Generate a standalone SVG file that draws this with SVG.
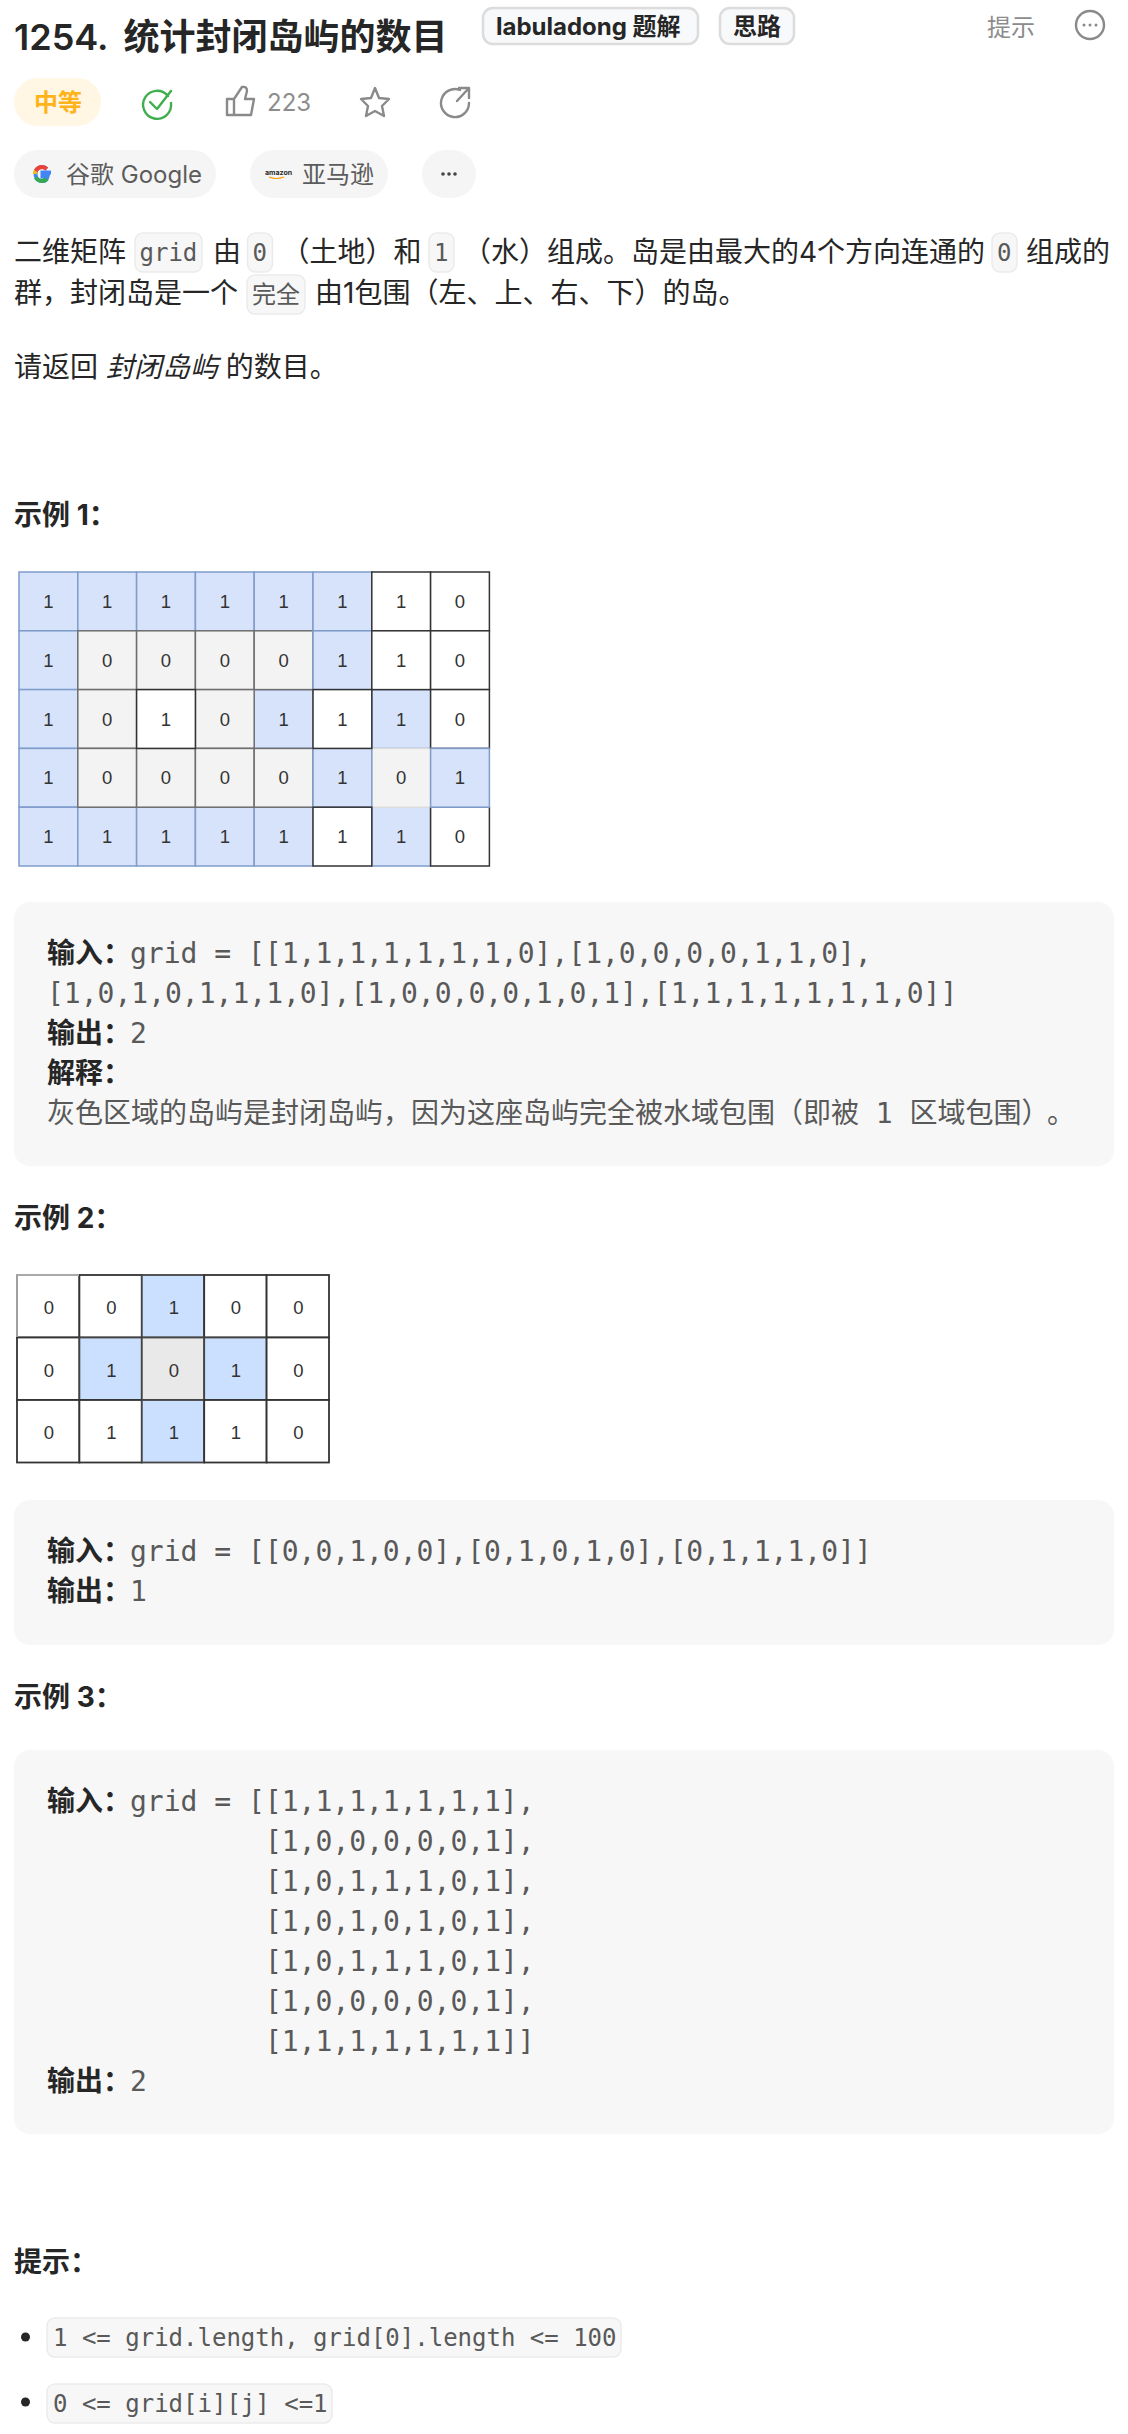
<svg xmlns="http://www.w3.org/2000/svg" width="1128" height="2434" viewBox="0 0 1128 2434">
<style>
text{font-family:"Inter","Noto Sans CJK SC","Liberation Sans",sans-serif;fill:#262626;font-size:28px}
.t{font-size:36px;font-weight:600}
.b{font-weight:700}
.s{font-size:24px;fill:#5c5c5c}
.m{font-family:"DejaVu Sans Mono","Noto Sans CJK SC",monospace;font-size:28px;fill:#595959}
.c{font-family:"DejaVu Sans Mono","Noto Sans CJK SC",monospace;font-size:24px;fill:#595959}
.n{font-family:"Liberation Sans",sans-serif;font-size:18.500px;fill:#333;text-anchor:middle}
.box{fill:#f7f7f7}
.ic{fill:#f7f7f7;stroke:#ebebeb;stroke-width:1.5}
.pill{fill:#f5f5f5}
.tag{fill:#f8f9fb;stroke:#dcdcdc;stroke-width:2.5}
.blue{fill:#d6e3fa;stroke:#7f9ccb;stroke-width:1.5}
.gray{fill:#f3f3f3;stroke:#6e6e6e;stroke-width:1.5}
.gr2{fill:#f3f3f3;stroke:#dedede;stroke-width:1.5}
.white{fill:#fff;stroke:#333;stroke-width:1.5}
.b2{fill:#cbe0ff;stroke:#444;stroke-width:1.8}
.g2{fill:#e9e9e9;stroke:#444;stroke-width:1.8}
.w2{fill:#fff;stroke:#333;stroke-width:1.8}
.icon{fill:none;stroke:#8a8a8a;stroke-width:2.4;stroke-linejoin:round;stroke-linecap:round}
</style>

<g id="header">
<text x="14" y="50" class="t">1254.</text>
<text x="123.500" y="50" class="t">统计封闭岛屿的数目</text>
<rect class="tag" x="483" y="8" width="215" height="36" rx="10"/>
<text x="496" y="35" class="b" style="font-size:24px">labuladong 题解</text>
<rect class="tag" x="720" y="8" width="74" height="36" rx="10"/>
<text x="733" y="35" class="b" style="font-size:24px">思路</text>
<text x="987" y="36" class="s" style="fill:#8c8c8c">提示</text>
<circle cx="1090" cy="25" r="14" class="icon"/>
<circle cx="1084" cy="25" r="1.5" fill="#8a8a8a"/><circle cx="1090" cy="25" r="1.5" fill="#8a8a8a"/><circle cx="1096" cy="25" r="1.5" fill="#8a8a8a"/>
</g>

<g id="meta">
<rect x="14" y="78" width="87" height="48" rx="24" fill="#fff6e3"/>
<text x="34" y="111" class="b" style="font-size:24px;fill:#ffb31a">中等</text>
<path d="M168 96A14 14 0 1 0 171 103" class="icon" style="stroke:#3fae4c"/>
<path d="M150 102L157 109L171 91" class="icon" style="stroke:#3fae4c"/>
<path d="M227 99H234V115H227ZM234 99L242 87Q247 86 247 91L245 99H254L251 115H234" class="icon"/>
<text x="267" y="111" class="s" style="fill:#8c8c8c">223</text>
<path d="M375 88L379 98L389 99L382 106L384 116L375 111L366 116L368 106L361 99L371 98Z" class="icon"/>
<path d="M460 90A14 14 0 1 0 469 103M459 88H469V98M469 88L457 101" class="icon"/>
</g>

<g id="tags">
<rect class="pill" x="14" y="150" width="202" height="48" rx="24"/>
<path d="M51 172.500H42.500V176.500H47.500C46.800 179.500 44.500 181 42 181C38 181 35.500 178 35.500 174S38 167 42 167C44 167 45.500 167.700 46.800 169" fill="none" stroke="#4285f4" stroke-width="4"/>
<path d="M35.500 171Q38 167 42 167Q44.500 167 46.800 169" fill="none" stroke="#ea4335" stroke-width="4"/>
<path d="M35 174Q35 172 35.700 171" fill="none" stroke="#fbbc05" stroke-width="4"/>
<path d="M35.700 177.500Q38 181 42 181Q45 181 47 179" fill="none" stroke="#34a853" stroke-width="4"/>
<text x="66" y="183" class="s">谷歌 Google</text>
<rect class="pill" x="250" y="150" width="138" height="48" rx="24"/>
<text x="265" y="175" style="font-size:7px;font-weight:700">amazon</text>
<path d="M269 177Q276 180 284 177" fill="none" stroke="#f90" stroke-width="1.2"/>
<text x="302" y="183" class="s">亚马逊</text>
<rect class="pill" x="422" y="150" width="54" height="48" rx="24"/>
<circle cx="443" cy="174" r="1.800" fill="#444"/><circle cx="449" cy="174" r="1.800" fill="#444"/><circle cx="455" cy="174" r="1.800" fill="#444"/>
</g>

<g id="description">
<text x="14" y="262">二维矩阵</text>
<rect class="ic" x="135" y="233" width="67" height="39" rx="8"/>
<text x="139.500" y="261" class="c">grid</text>
<text x="213" y="262">由</text>
<rect class="ic" x="247.500" y="233" width="25" height="39" rx="8"/>
<text x="252.500" y="261" class="c">0</text>
<text x="281.500" y="262">（土地）和</text>
<rect class="ic" x="429" y="233" width="25" height="39" rx="8"/>
<text x="434" y="261" class="c">1</text>
<text x="463" y="262">（水）组成。岛是由最大的4个方向连通的</text>
<rect class="ic" x="992" y="233" width="25" height="39" rx="8"/>
<text x="997" y="261" class="c">0</text>
<text x="1026" y="262">组成的</text>
<text x="14" y="303">群，封闭岛是一个</text>
<rect class="ic" x="247" y="275" width="58" height="39" rx="8"/>
<text x="252" y="303" class="c">完全</text>
<text x="315" y="303">由1包围（左、上、右、下）的岛。</text>
<text x="14" y="377">请返回 <tspan font-style="italic">封闭岛屿</tspan> 的数目。</text>
</g>

<g id="example1">
<text x="14" y="525" class="b">示例 1：</text>
<g id="grid1">
<rect class="blue" x="19" y="572" width="58.800" height="58.800"/><rect class="blue" x="77.800" y="572" width="58.800" height="58.800"/><rect class="blue" x="136.600" y="572" width="58.800" height="58.800"/><rect class="blue" x="195.400" y="572" width="58.800" height="58.800"/><rect class="blue" x="254.200" y="572" width="58.800" height="58.800"/><rect class="blue" x="313" y="572" width="58.800" height="58.800"/>
<rect class="blue" x="19" y="630.800" width="58.800" height="58.800"/><rect class="blue" x="19" y="689.600" width="58.800" height="58.800"/><rect class="blue" x="19" y="748.400" width="58.800" height="58.800"/>
<rect class="blue" x="19" y="807.200" width="58.800" height="58.800"/><rect class="blue" x="77.800" y="807.200" width="58.800" height="58.800"/><rect class="blue" x="136.600" y="807.200" width="58.800" height="58.800"/><rect class="blue" x="195.400" y="807.200" width="58.800" height="58.800"/><rect class="blue" x="254.200" y="807.200" width="58.800" height="58.800"/>
<rect class="blue" x="254.200" y="689.600" width="58.800" height="58.800"/><rect class="blue" x="371.800" y="689.600" width="58.800" height="58.800"/><rect class="blue" x="371.800" y="807.200" width="58.800" height="58.800"/>
<rect class="gray" x="77.800" y="630.800" width="58.800" height="58.800"/><rect class="gray" x="136.600" y="630.800" width="58.800" height="58.800"/><rect class="gray" x="195.400" y="630.800" width="58.800" height="58.800"/><rect class="gray" x="254.200" y="630.800" width="58.800" height="58.800"/>
<rect class="gray" x="77.800" y="689.600" width="58.800" height="58.800"/><rect class="gray" x="195.400" y="689.600" width="58.800" height="58.800"/>
<rect class="gray" x="77.800" y="748.400" width="58.800" height="58.800"/><rect class="gray" x="136.600" y="748.400" width="58.800" height="58.800"/><rect class="gray" x="195.400" y="748.400" width="58.800" height="58.800"/><rect class="gray" x="254.200" y="748.400" width="58.800" height="58.800"/>
<rect class="gr2" x="371.800" y="748.400" width="58.800" height="58.800"/>
<rect class="blue" x="313" y="630.800" width="58.800" height="58.800"/><rect class="blue" x="313" y="748.400" width="58.800" height="58.800"/>
<rect class="white" x="371.800" y="572" width="58.800" height="58.800"/><rect class="white" x="430.600" y="572" width="58.800" height="58.800"/>
<rect class="white" x="371.800" y="630.800" width="58.800" height="58.800"/><rect class="white" x="430.600" y="630.800" width="58.800" height="58.800"/>
<rect class="white" x="136.600" y="689.600" width="58.800" height="58.800"/><rect class="white" x="313" y="689.600" width="58.800" height="58.800"/><rect class="white" x="430.600" y="689.600" width="58.800" height="58.800"/>
<rect class="white" x="313" y="807.200" width="58.800" height="58.800"/><rect class="white" x="430.600" y="807.200" width="58.800" height="58.800"/>
<rect class="blue" x="430.600" y="748.400" width="58.800" height="58.800"/>
<g class="nums">
<text class="n" x="48.400" y="608">1</text><text class="n" x="107.200" y="608">1</text><text class="n" x="166" y="608">1</text><text class="n" x="224.800" y="608">1</text><text class="n" x="283.600" y="608">1</text><text class="n" x="342.400" y="608">1</text><text class="n" x="401.200" y="608">1</text><text class="n" x="460" y="608">0</text>
<text class="n" x="48.400" y="666.800">1</text><text class="n" x="107.200" y="666.800">0</text><text class="n" x="166" y="666.800">0</text><text class="n" x="224.800" y="666.800">0</text><text class="n" x="283.600" y="666.800">0</text><text class="n" x="342.400" y="666.800">1</text><text class="n" x="401.200" y="666.800">1</text><text class="n" x="460" y="666.800">0</text>
<text class="n" x="48.400" y="725.600">1</text><text class="n" x="107.200" y="725.600">0</text><text class="n" x="166" y="725.600">1</text><text class="n" x="224.800" y="725.600">0</text><text class="n" x="283.600" y="725.600">1</text><text class="n" x="342.400" y="725.600">1</text><text class="n" x="401.200" y="725.600">1</text><text class="n" x="460" y="725.600">0</text>
<text class="n" x="48.400" y="784.400">1</text><text class="n" x="107.200" y="784.400">0</text><text class="n" x="166" y="784.400">0</text><text class="n" x="224.800" y="784.400">0</text><text class="n" x="283.600" y="784.400">0</text><text class="n" x="342.400" y="784.400">1</text><text class="n" x="401.200" y="784.400">0</text><text class="n" x="460" y="784.400">1</text>
<text class="n" x="48.400" y="843.200">1</text><text class="n" x="107.200" y="843.200">1</text><text class="n" x="166" y="843.200">1</text><text class="n" x="224.800" y="843.200">1</text><text class="n" x="283.600" y="843.200">1</text><text class="n" x="342.400" y="843.200">1</text><text class="n" x="401.200" y="843.200">1</text><text class="n" x="460" y="843.200">0</text>
</g>
</g>
<rect class="box" x="14" y="902" width="1100" height="264" rx="16"/>
<text x="47" y="963" class="b">输入：</text><text x="130" y="963" class="m">grid = [[1,1,1,1,1,1,1,0],[1,0,0,0,0,1,1,0],</text>
<text x="47" y="1003" class="m">[1,0,1,0,1,1,1,0],[1,0,0,0,0,1,0,1],[1,1,1,1,1,1,1,0]]</text>
<text x="47" y="1043" class="b">输出：</text><text x="130" y="1043" class="m">2</text>
<text x="47" y="1083" class="b">解释：</text>
<text x="47" y="1123" class="m">灰色区域的岛屿是封闭岛屿，因为这座岛屿完全被水域包围（即被 1 区域包围）</text>
<text x="1047" y="1123" class="m">。</text>
</g>

<g id="example2">
<text x="14" y="1228" class="b">示例 2：</text>
<g id="grid2">
<rect class="w2" x="17" y="1275" width="62.400" height="62.500"/><rect class="w2" x="79.400" y="1275" width="62.400" height="62.500"/><rect class="b2" x="141.800" y="1275" width="62.400" height="62.500"/><rect class="w2" x="204.200" y="1275" width="62.400" height="62.500"/><rect class="w2" x="266.600" y="1275" width="62.400" height="62.500"/>
<rect class="w2" x="17" y="1337.500" width="62.400" height="62.500"/><rect class="b2" x="79.400" y="1337.500" width="62.400" height="62.500"/><rect class="g2" x="141.800" y="1337.500" width="62.400" height="62.500"/><rect class="b2" x="204.200" y="1337.500" width="62.400" height="62.500"/><rect class="w2" x="266.600" y="1337.500" width="62.400" height="62.500"/>
<rect class="w2" x="17" y="1400" width="62.400" height="62.500"/><rect class="w2" x="79.400" y="1400" width="62.400" height="62.500"/><rect class="b2" x="141.800" y="1400" width="62.400" height="62.500"/><rect class="w2" x="204.200" y="1400" width="62.400" height="62.500"/><rect class="w2" x="266.600" y="1400" width="62.400" height="62.500"/>
<path d="M17 1337V1275H79" fill="none" stroke="#aaa" stroke-width="1.800"/>
<text class="n" x="49" y="1314">0</text><text class="n" x="111.500" y="1314">0</text><text class="n" x="174" y="1314">1</text><text class="n" x="236" y="1314">0</text><text class="n" x="298.500" y="1314">0</text>
<text class="n" x="49" y="1376.500">0</text><text class="n" x="111.500" y="1376.500">1</text><text class="n" x="174" y="1376.500">0</text><text class="n" x="236" y="1376.500">1</text><text class="n" x="298.500" y="1376.500">0</text>
<text class="n" x="49" y="1439">0</text><text class="n" x="111.500" y="1439">1</text><text class="n" x="174" y="1439">1</text><text class="n" x="236" y="1439">1</text><text class="n" x="298.500" y="1439">0</text>
</g>
<rect class="box" x="14" y="1500" width="1100" height="145" rx="16"/>
<text x="47" y="1561" class="b">输入：</text><text x="130" y="1561" class="m">grid = [[0,0,1,0,0],[0,1,0,1,0],[0,1,1,1,0]]</text>
<text x="47" y="1601" class="b">输出：</text><text x="130" y="1601" class="m">1</text>
</g>

<g id="example3">
<text x="14" y="1707" class="b">示例 3：</text>
<rect class="box" x="14" y="1750" width="1100" height="384" rx="16"/>
<text x="47" y="1811" class="b">输入：</text><text x="130" y="1811" class="m">grid = [[1,1,1,1,1,1,1],</text>
<text x="265" y="1851" class="m">[1,0,0,0,0,0,1],</text>
<text x="265" y="1891" class="m">[1,0,1,1,1,0,1],</text>
<text x="265" y="1931" class="m">[1,0,1,0,1,0,1],</text>
<text x="265" y="1971" class="m">[1,0,1,1,1,0,1],</text>
<text x="265" y="2011" class="m">[1,0,0,0,0,0,1],</text>
<text x="265" y="2051" class="m">[1,1,1,1,1,1,1]]</text>
<text x="47" y="2091" class="b">输出：</text><text x="130" y="2091" class="m">2</text>
</g>

<g id="hints">
<text x="14" y="2272" class="b">提示：</text>
<circle cx="25.500" cy="2337" r="4.500" fill="#262626"/>
<rect class="ic" x="47" y="2318" width="574" height="39" rx="8"/>
<text x="53" y="2346" class="c">1 &lt;= grid.length, grid[0].length &lt;= 100</text>
<circle cx="25.500" cy="2402" r="4.500" fill="#262626"/>
<rect class="ic" x="47" y="2384" width="285" height="39" rx="8"/>
<text x="53" y="2412" class="c">0 &lt;= grid[i][j] &lt;=1</text>
</g>
</svg>
